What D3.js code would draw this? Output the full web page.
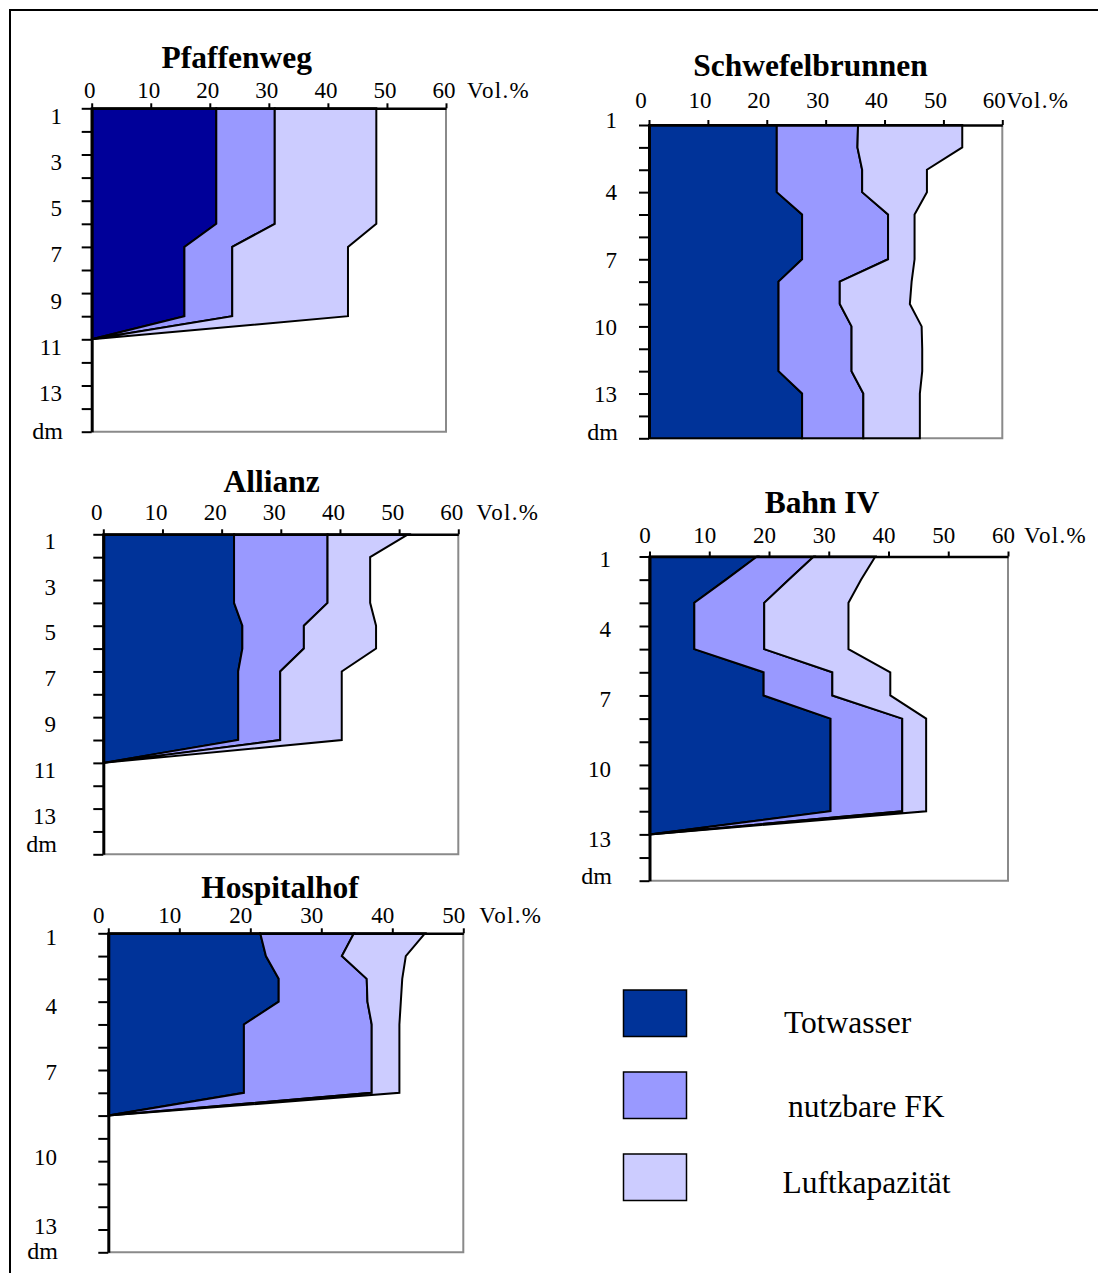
<!DOCTYPE html>
<html>
<head>
<meta charset="utf-8">
<script src="https://cdn.jsdelivr.net/npm/d3@7"></script>
<style>
  html, body { margin: 0; padding: 0; background: #fff; }
  svg { display: block; }
  text { font-family: "Liberation Serif", "Times New Roman", serif; fill: #000; }
</style>
</head>
<body>
<svg id="chart" width="1098" height="1273"></svg>
<script>
// ---- data -----------------------------------------------------------
const seriesKeys = ["Totwasser", "nutzbare FK", "Luftkapazität"];
const unitLabel = "Vol.%";
const depthUnit = "dm";

const xTicks60 = [0, 10, 20, 30, 40, 50, 60];
const xTicks50 = [0, 10, 20, 30, 40, 50];

// values in Vol.% per depth step (1 dm, 2 dm, ...)
const pfaffenwegTotwasser  = [21.1, 21.1, 21.1, 21.1, 21.1, 21.1, 15.7, 15.7, 15.7, 15.7, 0];
const pfaffenwegNutzbareFK = [9.9, 9.9, 9.9, 9.9, 9.9, 9.9, 8.1, 8.1, 8.1, 8.1, 0];
const pfaffenwegLuft       = [17.2, 17.2, 17.2, 17.2, 17.2, 17.2, 19.6, 19.6, 19.6, 19.6, 0];
const pfaffenwegDepthLabels = ["1", "3", "5", "7", "9", "11", "13"];

const schwefelTotwasser  = [21.7, 21.7, 21.7, 21.7, 26.0, 26.0, 26.0, 22.0, 22.0, 22.0, 22.0, 22.0, 26.0, 26.0, 26.0];
const schwefelNutzbareFK = [13.8, 13.7, 14.5, 14.5, 14.6, 14.6, 14.6, 10.4, 10.4, 12.4, 12.4, 12.4, 10.4, 10.4, 10.4];
const schwefelLuft       = [17.7, 17.8, 11.0, 11.0, 4.5, 4.5, 4.5, 12.2, 11.9, 11.9, 12.0, 12.0, 9.6, 9.6, 9.6];
const schwefelDepthLabels = ["1", "4", "7", "10", "13"];

const allianzTotwasser  = [22.1, 22.1, 22.1, 22.1, 23.5, 23.5, 22.8, 22.8, 22.8, 22.8, 0];
const allianzNutzbareFK = [15.8, 15.8, 15.8, 15.8, 10.4, 10.4, 7.1, 7.1, 7.1, 7.1, 0];
const allianzLuft       = [13.6, 7.2, 7.2, 7.2, 12.2, 12.2, 10.4, 10.4, 10.4, 10.4, 0];
const allianzDepthLabels = ["1", "3", "5", "7", "9", "11", "13"];

const bahnTotwasser  = [18.0, 12.8, 7.5, 7.5, 7.5, 19.1, 19.1, 30.3, 30.3, 30.3, 30.3, 30.3, 0];
const bahnNutzbareFK = [9.5, 10.5, 11.7, 11.7, 11.7, 11.5, 11.5, 12.0, 12.0, 12.0, 12.0, 12.0, 0];
const bahnLuft       = [10.3, 12.1, 14.1, 14.1, 14.1, 9.7, 9.7, 4.0, 4.0, 4.0, 4.0, 4.0, 0];
const bahnDepthLabels = ["1", "4", "7", "10", "13"];

const hospitalTotwasser  = [21.4, 22.2, 24.0, 24.0, 19.1, 19.1, 19.1, 19.1, 0];
const hospitalNutzbareFK = [13.2, 10.7, 12.4, 12.5, 18.0, 18.0, 18.0, 18.0, 0];
const hospitalLuft       = [10.0, 9.0, 5.0, 4.7, 3.9, 3.9, 3.9, 3.9, 0];
const hospitalDepthLabels = ["1", "4", "7", "10", "13"];

// ---- layout ---------------------------------------------------------
const colors = { nfk: "#9999ff", lk: "#ccccff", tw: "#003399" };

const panels = [
  { title: "Pfaffenweg", values: [pfaffenwegTotwasser, pfaffenwegNutzbareFK, pfaffenwegLuft],
    depthLabels: pfaffenwegDepthLabels, xTicks: xTicks60,
    box: { left: 91.7, right: 446, top: 108.3, bottom: 431.7 },
    titlePos: [236.7, 68.3], xLabelGap: 10, xLabelDx: -2.5, unitDx: 21,
    yLabelRight: 62, yLabelShift: [0.33, 0.33, 0.33, 0.33, 0.33, 0.35, 0.35], dmRow: 14.0,
    darkFill: "#000099" },
  { title: "Schwefelbrunnen", values: [schwefelTotwasser, schwefelNutzbareFK, schwefelLuft],
    depthLabels: schwefelDepthLabels, xTicks: xTicks60,
    box: { left: 649, right: 1002.3, top: 125, bottom: 438.3 },
    titlePos: [810.5, 76], xLabelGap: 17.5, xLabelDx: -8.5, unitDx: 4,
    yLabelRight: 617, yLabelShift: [-0.2, 0.02, 0.05, 0.05, 0.03], dmRow: 13.78,
    darkFill: colors.tw },
  { title: "Allianz", values: [allianzTotwasser, allianzNutzbareFK, allianzLuft],
    depthLabels: allianzDepthLabels, xTicks: xTicks60,
    box: { left: 103.3, right: 458.3, top: 534.3, bottom: 854.3 },
    titlePos: [271.7, 492.3], xLabelGap: 14, xLabelDx: -7, unitDx: 18,
    yLabelRight: 56, yLabelShift: [0.3, 0.3, 0.3, 0.3, 0.3, 0.31, 0.33], dmRow: 13.6,
    darkFill: colors.tw },
  { title: "Bahn IV", values: [bahnTotwasser, bahnNutzbareFK, bahnLuft],
    depthLabels: bahnDepthLabels, xTicks: xTicks60,
    box: { left: 649.5, right: 1008, top: 556.5, bottom: 880.7 },
    titlePos: [822, 512.7], xLabelGap: 13.5, xLabelDx: -5, unitDx: 16,
    yLabelRight: 611, yLabelShift: [0.1, 0.13, 0.17, 0.2, 0.2], dmRow: 13.84,
    darkFill: colors.tw },
  { title: "Hospitalhof", values: [hospitalTotwasser, hospitalNutzbareFK, hospitalLuft],
    depthLabels: hospitalDepthLabels, xTicks: xTicks50,
    box: { left: 108.3, right: 463.3, top: 933.3, bottom: 1252.3 },
    titlePos: [280, 897.5], xLabelGap: 10, xLabelDx: -10, unitDx: 16,
    yLabelRight: 57, yLabelShift: [0.16, 0.19, 0.09, 0.81, 0.85], dmRow: 14.0,
    darkFill: colors.tw }
];

const depthRows = 14;          // tick intervals on the depth axis
const tickFont = 23;
const titleFont = 31.5;

const svg = d3.select("#chart");
svg.append("rect").attr("width", 1098).attr("height", 1273).attr("fill", "#fff");

// outer frame (runs past the right and bottom edge of the page)
svg.append("rect")
  .attr("x", 10).attr("y", 10).attr("width", 1200).attr("height", 1400)
  .attr("fill", "none").attr("stroke", "#000").attr("stroke-width", 2);

panels.forEach(p => {
  const b = p.box;
  const g = svg.append("g");

  const x = d3.scaleLinear().domain([0, d3.max(p.xTicks)]).range([b.left, b.right]);
  const y = d3.scaleLinear().domain([0, depthRows]).range([b.top, b.bottom]);

  const rows = p.values[0].map((_, i) => ({
    row: i,
    [seriesKeys[0]]: p.values[0][i],
    [seriesKeys[1]]: p.values[1][i],
    [seriesKeys[2]]: p.values[2][i]
  }));
  const stacked = d3.stack().keys(seriesKeys)(rows);

  // plot area border (right + bottom)
  g.append("path")
    .attr("d", `M${b.right},${b.top} V${b.bottom} H${b.left}`)
    .attr("fill", "none").attr("stroke", "#8a8a8a").attr("stroke-width", 2);

  const area = d3.area()
    .y(d => y(d.data.row))
    .x0(d => x(d[0]))
    .x1(d => x(d[1]));

  const fills = [p.darkFill, colors.nfk, colors.lk];
  g.selectAll("path.band")
    .data(stacked)
    .join("path")
    .attr("class", "band")
    .attr("d", area)
    .attr("fill", (d, i) => fills[i])
    .attr("stroke", "#000")
    .attr("stroke-width", 2)
    .attr("stroke-linejoin", "miter");

  // value axis along the top
  const xAxis = g.append("g")
    .attr("transform", `translate(0,${b.top})`)
    .call(d3.axisTop(x).tickValues(p.xTicks).tickSize(5).tickSizeOuter(0));
  xAxis.select(".domain").attr("stroke", "#000").attr("stroke-width", 2.5);
  xAxis.selectAll(".tick line").attr("stroke", "#000").attr("stroke-width", 2);
  xAxis.selectAll(".tick text")
    .attr("y", -p.xLabelGap).attr("dy", 0).attr("dx", p.xLabelDx)
    .attr("font-size", tickFont).attr("font-family", "Liberation Serif").attr("fill", "#000");

  g.append("text")
    .attr("x", b.right + p.unitDx).attr("y", b.top - p.xLabelGap)
    .attr("font-size", tickFont).attr("letter-spacing", 1.3)
    .text(unitLabel);

  // depth axis on the left
  const yAxis = g.append("g")
    .attr("transform", `translate(${b.left},0)`)
    .call(d3.axisLeft(y).tickValues(d3.range(depthRows + 1)).tickSize(10).tickSizeOuter(0).tickFormat(""));
  yAxis.select(".domain").attr("stroke", "#000").attr("stroke-width", 3);
  yAxis.selectAll(".tick line").attr("stroke", "#000").attr("stroke-width", 2);

  g.selectAll("text.depth")
    .data(p.depthLabels)
    .join("text")
    .attr("class", "depth")
    .attr("x", p.yLabelRight)
    .attr("y", (d, i) => y(+d - 1 + p.yLabelShift[i]) + tickFont * 0.34)
    .attr("text-anchor", "end")
    .attr("font-size", tickFont)
    .text(d => d);

  g.append("text")
    .attr("x", p.yLabelRight + 1)
    .attr("y", y(p.dmRow) + tickFont * 0.3)
    .attr("text-anchor", "end")
    .attr("font-size", 24)
    .text(depthUnit);

  g.append("text")
    .attr("x", p.titlePos[0]).attr("y", p.titlePos[1])
    .attr("text-anchor", "middle")
    .attr("font-size", titleFont).attr("font-weight", "bold")
    .text(p.title);
});

// ---- legend ---------------------------------------------------------
const legendFills = [colors.tw, colors.nfk, colors.lk];
const legendY = d3.scalePoint().domain(seriesKeys).range([990, 1154]);
const legend = svg.append("g");
legend.selectAll("rect")
  .data(seriesKeys)
  .join("rect")
  .attr("x", 623.5).attr("y", d => legendY(d))
  .attr("width", 63).attr("height", 46.5)
  .attr("fill", (d, i) => legendFills[i])
  .attr("stroke", "#000").attr("stroke-width", 1.5);
const legendTextX = [784, 788, 782.5];
legend.selectAll("text")
  .data(seriesKeys)
  .join("text")
  .attr("x", (d, i) => legendTextX[i])
  .attr("y", (d, i) => legendY(d) + [43.3, 45, 38.7][i])
  .attr("font-size", 31.5)
  .text(d => d);
</script>
</body>
</html>
